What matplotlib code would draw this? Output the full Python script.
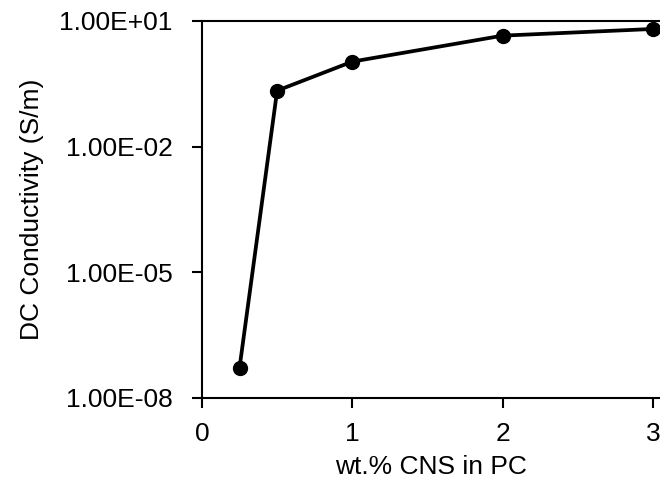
import matplotlib
matplotlib.use("Agg")
from matplotlib import pyplot as plt
from matplotlib.ticker import FixedLocator, FuncFormatter, NullLocator

# data
wt_pct = [0.25, 0.5, 1, 2, 3]
conductivity = [5.3e-8, 0.217, 1.07, 4.46, 6.44]
y_ticks = [1e1, 1e-2, 1e-5, 1e-8]
x_ticks = [0, 1, 2, 3]

plt.rcParams['font.family'] = ['Liberation Sans', 'DejaVu Sans']

fig = plt.figure(figsize=(6.6, 4.84), dpi=100)
ax = fig.add_axes([0.306, 0.1777, 0.694, 0.779])

ax.plot(wt_pct, conductivity, color='black', linewidth=2.7,
        marker='o', markersize=10, markerfacecolor='black', clip_on=False)

ax.set_yscale('log')
ax.set_ylim(1e-8, 1e1)
ax.set_xlim(0, 3.047)
ax.yaxis.set_major_locator(FixedLocator(y_ticks))
ax.yaxis.set_minor_locator(NullLocator())
ax.yaxis.set_major_formatter(FuncFormatter(lambda v, p: f"{v:.2E}"))
ax.xaxis.set_major_locator(FixedLocator(x_ticks))

ax.spines['right'].set_visible(False)
for s in ['left', 'bottom', 'top']:
    ax.spines[s].set_linewidth(1.5)
ax.tick_params(axis='both', direction='out', length=7, width=1.5,
               labelsize=19, colors='black')
ax.tick_params(axis='y', pad=14)
ax.tick_params(axis='x', pad=10)

ax.set_xlabel('wt.% CNS in PC', fontsize=19, labelpad=7)
ax.set_ylabel('DC Conductivity (S/m)', fontsize=19, labelpad=11)

plt.savefig('out.png', dpi=100)
